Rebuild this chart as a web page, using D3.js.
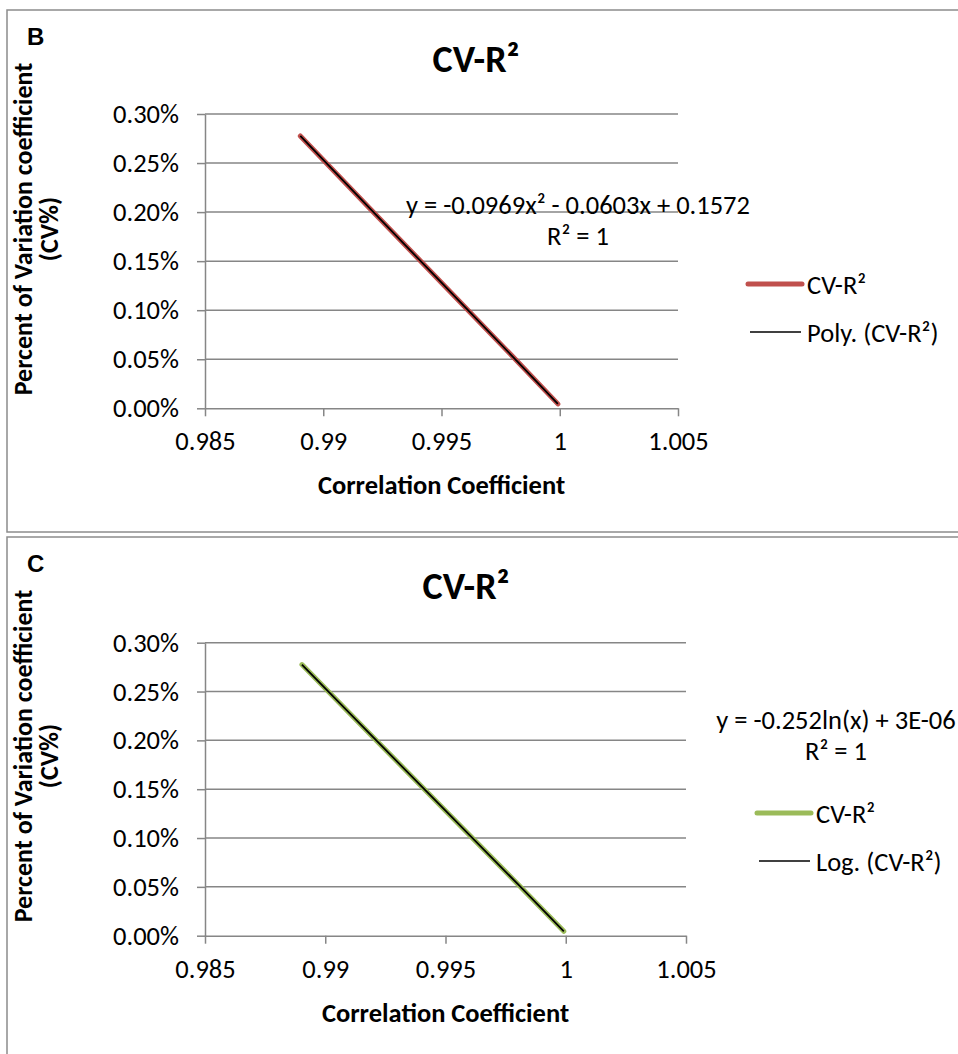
<!DOCTYPE html>
<html>
<head>
<meta charset="utf-8">
<script src="https://cdn.jsdelivr.net/npm/d3@7"></script>
<style>
  body { margin: 0; background: #fff; }
  text { font-family: Carlito, Calibri, Lato, sans-serif; fill: #000; }
</style>
</head>
<body>
<script>
// Data (same series in both panels)
const corrR = [0.98903, 0.9920, 0.9950, 0.9980, 0.99992];
const cvValues = [0.002776, 0.00203, 0.00128, 0.00053, 0.000045];

// Axis ticks
const xTicks = [0.985, 0.99, 0.995, 1, 1.005];
const yTicks = [0, 0.0005, 0.001, 0.0015, 0.002, 0.0025, 0.003];

// Texts
const chartTitle = "CV-R²";
const xTitle = "Correlation Coefficient";
const yTitleLines = ["Percent of Variation coefficient", "(CV%)"];
const panelLetters = ["B", "C"];
const trendNames = ["Poly. (CV-R²)", "Log. (CV-R²)"];
const trendEquations = ["y = -0.0969x² - 0.0603x + 0.1572", "y = -0.252ln(x) + 3E-06"];
const trendR2 = ["R² = 1", "R² = 1"];
const seriesColors = ["#C0504D", "#9BBB59"];

const fs = 26.5;
const points = corrR.map((r, i) => ({r: r, cv: cvValues[i]}));

const svg = d3.select("body").append("svg")
  .attr("width", 958)
  .attr("height", 1054);

// layout of each panel
const panels = [
  {top: 10, h: 522, y0: 408.3, y1: 114, right: 678, titleX: 476, legX: 748, eqX: 578, eqY: 214, legY: 284},
  {top: 537, h: 540, y0: 935.7, y1: 642.7, right: 686, titleX: 466, legX: 757, eqX: 836, eqY: 729, legY: 813}
];

panels.forEach((p, k) => {
  const g = svg.append("g");

  // frame
  g.append("rect")
    .attr("x", 7).attr("y", p.top)
    .attr("width", 980).attr("height", p.h)
    .attr("fill", "#fff")
    .attr("stroke", "#8c8c8c")
    .attr("stroke-width", 1.5);

  const x = d3.scaleLinear().domain([0.985, 1.005]).range([205, p.right]);
  const y = d3.scaleLinear().domain([0, 0.003]).range([p.y0, p.y1]);

  // horizontal gridlines
  g.selectAll(".grid")
    .data(yTicks.slice(1))
    .enter().append("line")
    .attr("x1", 205).attr("x2", p.right)
    .attr("y1", d => y(d)).attr("y2", d => y(d))
    .attr("stroke", "#868686")
    .attr("stroke-width", 1.5);

  // axes
  const yAxis = d3.axisLeft(y).tickValues(yTicks).tickSize(8).tickSizeOuter(0)
    .tickPadding(18).tickFormat(d3.format(".2%"));
  const xAxis = d3.axisBottom(x).tickValues(xTicks).tickSize(8).tickSizeOuter(0)
    .tickPadding(15).tickFormat(d => String(d));

  const gy = g.append("g").attr("transform", "translate(205,0)").call(yAxis);
  const gx = g.append("g").attr("transform", "translate(0," + p.y0 + ")").call(xAxis);
  [gx, gy].forEach(a => {
    a.selectAll("path, line").attr("stroke", "#868686").attr("stroke-width", 1.5);
    a.selectAll("text").attr("font-size", fs).attr("fill", "#000");
    a.attr("font-family", null).attr("font-size", null);
  });

  // series + trendline
  const line = d3.line().x(d => x(d.r)).y(d => y(d.cv));
  g.append("path")
    .datum(points)
    .attr("d", line)
    .attr("fill", "none")
    .attr("stroke", seriesColors[k])
    .attr("stroke-width", 5)
    .attr("stroke-linecap", "round");
  g.append("path")
    .datum(points)
    .attr("d", line)
    .attr("fill", "none")
    .attr("stroke", "#000")
    .attr("stroke-width", 1.8);

  // panel letter
  g.append("text")
    .attr("x", 27).attr("y", p.top + 35)
    .style("font-family", "'Liberation Sans', Arial, sans-serif")
    .attr("font-size", 24).attr("font-weight", "bold")
    .text(panelLetters[k]);

  // title
  g.append("text")
    .attr("x", p.titleX).attr("y", p.top + 62)
    .attr("text-anchor", "middle")
    .attr("font-size", 38).attr("font-weight", "bold")
    .text(chartTitle);

  // x axis title
  g.append("text")
    .attr("x", (205 + p.right) / 2).attr("y", p.y0 + 86)
    .attr("text-anchor", "middle")
    .attr("font-size", fs).attr("font-weight", "bold")
    .text(xTitle);

  // y axis title (two lines)
  const yc = p.top + 219;
  yTitleLines.forEach((t, i) => {
    g.append("text")
      .attr("transform", "translate(" + (32 + i * 26) + "," + yc + ") rotate(-90)")
      .attr("text-anchor", "middle")
      .attr("font-size", 26).attr("font-weight", "bold")
      .text(t);
  });

  // trendline equation
  g.append("text")
    .attr("x", p.eqX).attr("y", p.eqY)
    .attr("text-anchor", "middle")
    .attr("font-size", fs)
    .text(trendEquations[k]);
  g.append("text")
    .attr("x", p.eqX).attr("y", p.eqY + 31)
    .attr("text-anchor", "middle")
    .attr("font-size", fs)
    .text(trendR2[k]);

  // legend
  const leg = g.append("g").attr("transform", "translate(" + p.legX + "," + p.legY + ")");
  leg.append("line")
    .attr("x1", 0).attr("x2", 54)
    .attr("stroke", seriesColors[k]).attr("stroke-width", 5)
    .attr("stroke-linecap", "round");
  leg.append("text").attr("x", 59).attr("y", 9.5).attr("font-size", fs).text(chartTitle);
  leg.append("line")
    .attr("x1", 2).attr("x2", 53).attr("y1", 48).attr("y2", 48)
    .attr("stroke", "#000").attr("stroke-width", 1.5);
  leg.append("text").attr("x", 59).attr("y", 57.5).attr("font-size", fs).text(trendNames[k]);
});
</script>
</body>
</html>
